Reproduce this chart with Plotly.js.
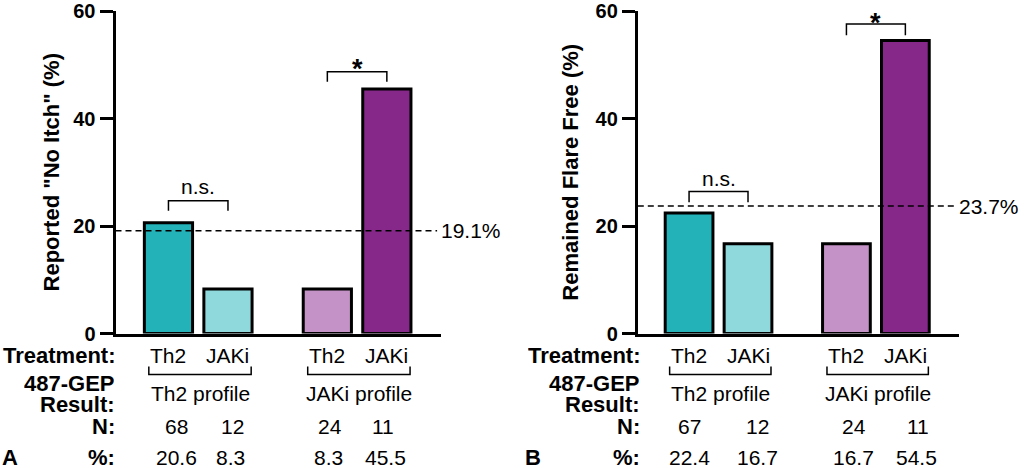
<!DOCTYPE html>
<html>
<head>
<meta charset="utf-8">
<script src="https://cdn.plot.ly/plotly-3.0.1.min.js"></script>
<style>
  html, body { margin: 0; padding: 0; background: #fff; }
  #chart { width: 1024px; height: 468px; }
</style>
</head>
<body>
<div id="chart"></div>
<script>
// Treatment received, grouped by 487-GEP profile result
const treatments = ['Th2', 'JAKi', 'Th2', 'JAKi'];
const profiles = ['Th2 profile', 'JAKi profile'];

// Panel A: patients reporting "No Itch"
const itchN = [68, 12, 24, 11];
const itchPct = [20.6, 8.3, 8.3, 45.5];
const itchOverall = 19.1;
const itchSig = ['n.s.', '*'];

// Panel B: patients who remained flare free
const flareN = [67, 12, 24, 11];
const flarePct = [22.4, 16.7, 16.7, 54.5];
const flareOverall = 23.7;
const flareSig = ['n.s.', '*'];

const yTicks = [0, 20, 40, 60];

// ---- drawing setup ----
const W = 1024, H = 468;
const FONT = 'Arial, "Liberation Sans", Helvetica, sans-serif';
const barColors = ['#22b2b8', '#8fd9dc', '#c492c6', '#86288a'];
const barPos = [1, 2, 3.67, 4.67];
const py = p => (H - p) / H;          // pixel row -> paper fraction
const yDomain = [py(333.5), py(11)];

const panels = [
  {
    xa: 'x', ya: 'y', xDomain: [115.5, 441], range: [0.11, 5.58],
    pct: itchPct, n: itchN, overall: itchOverall, sig: itchSig,
    title: 'Reported "No Itch" (%)', standoff: 8, letter: 'A', letterX: 10, rowRight: 117,
    sigBracket: [[22.85, 24.7], [46.85, 48.7]], sigText: [27.3, 50.3],
    nShift: [8.5, 5, 3, -4], pShift: [8, 3, 1, -1]
  },
  {
    xa: 'x2', ya: 'y2', xDomain: [637.8, 959], range: [0.13, 5.58],
    pct: flarePct, n: flareN, overall: flareOverall, sig: flareSig,
    title: 'Remained Flare Free (%)', standoff: 11, letter: 'B', letterX: 533, rowRight: 642,
    sigBracket: [[24.4, 26.4], [55.5, 57.6]], sigText: [28.9, 58.9],
    nShift: [0, 9, 8, 13], pShift: [0, 9, 7, 11]
  }
];

const traces = [];
const shapes = [];
const annotations = [];
const layout = {
  width: W, height: H,
  margin: { l: 0, r: 0, t: 0, b: 0 },
  paper_bgcolor: '#fff', plot_bgcolor: '#fff',
  showlegend: false,
  font: { family: FONT, color: '#000', size: 21 }
};

// compact text boxes for the tightly stacked table rows
const txt = (text, x, xref, y, opts) => Object.assign({
  text, x, xref, y, yref: 'paper', showarrow: false,
  xanchor: 'center', yanchor: 'middle', borderpad: 0, height: 20,
  font: { family: FONT, size: 21, color: '#000' }
}, opts || {});
const bold = size => ({ family: FONT, size: size, color: '#000', weight: 'bold' });

panels.forEach((p, i) => {
  const xKey = i === 0 ? 'xaxis' : 'xaxis2';
  const yKey = i === 0 ? 'yaxis' : 'yaxis2';

  layout[xKey] = {
    domain: [p.xDomain[0] / W, p.xDomain[1] / W], range: p.range, anchor: p.ya,
    showline: true, linewidth: 3, linecolor: '#000',
    ticks: '', showticklabels: false, showgrid: false, zeroline: false, fixedrange: true
  };
  layout[yKey] = {
    domain: yDomain, range: [0, 60], anchor: p.xa,
    tickvals: yTicks, ticks: 'outside', ticklen: 13, tickwidth: 3, tickcolor: '#000',
    showline: true, linewidth: 3, linecolor: '#000',
    showgrid: false, zeroline: false, fixedrange: true,
    tickfont: bold(20),
    title: { text: p.title, font: bold(22), standoff: p.standoff }
  };

  traces.push({
    type: 'bar', x: barPos, y: p.pct, xaxis: p.xa, yaxis: p.ya,
    width: 0.81, hoverinfo: 'none',
    marker: { color: barColors, line: { color: '#000', width: 3 } }
  });

  // overall rate reference line
  shapes.push({
    type: 'line', xref: p.xa + ' domain', yref: p.ya,
    x0: 0, x1: 0.988, y0: p.overall, y1: p.overall,
    line: { color: '#000', width: 1.5, dash: '6px,4px' }, layer: 'above'
  });
  annotations.push({
    text: p.overall.toFixed(1) + '%', xref: 'paper', x: p.xDomain[1] / W, xanchor: 'left', xshift: -2,
    yref: p.ya, y: p.overall, yanchor: 'middle', showarrow: false,
    font: { family: FONT, size: 21, color: '#000' }
  });

  // within-profile comparison brackets
  [0, 1].forEach(g => {
    const x0 = barPos[2 * g], x1 = barPos[2 * g + 1];
    const [lo, hi] = p.sigBracket[g];
    shapes.push({
      type: 'path', xref: p.xa, yref: p.ya,
      path: `M${x0},${lo} L${x0},${hi} L${x1},${hi} L${x1},${lo}`,
      line: { color: '#000', width: 1.5 }
    });
    const star = p.sig[g] === '*';
    annotations.push({
      text: p.sig[g], xref: p.xa, x: (x0 + x1) / 2, yref: p.ya, y: p.sigText[g],
      yanchor: 'middle', yshift: star ? -6 : 0, showarrow: false,
      font: star ? bold(27) : { family: FONT, size: 21, color: '#000' }
    });

    // profile bracket under the treatment labels
    const bx0 = x0 - 0.33, bx1 = x1 + 0.39;
    shapes.push({
      type: 'path', xref: p.xa, yref: 'paper',
      path: `M${bx0},${py(366.5)} L${bx0},${py(374.5)} L${bx1},${py(374.5)} L${bx1},${py(366.5)}`,
      line: { color: '#000', width: 1.5 }
    });
    annotations.push(txt(profiles[g], (bx0 + bx1) / 2, p.xa, py(393), { height: null }));
  });

  // table rows under the bars
  treatments.forEach((t, k) => {
    annotations.push(txt(t, barPos[k], p.xa, py(355)));
    annotations.push(txt(String(p.n[k]), barPos[k], p.xa, py(425.5), { xshift: p.nShift[k] }));
    annotations.push(txt(p.pct[k].toFixed(1), barPos[k], p.xa, py(457), { xshift: p.pShift[k] }));
  });

  // row headers
  const rx = p.rowRight / W;
  [['Treatment:', 355], ['487-GEP', 383], ['Result:', 403.5], ['N:', 425.5], ['%:', 457]]
    .forEach(([label, row]) => {
      annotations.push(txt(label, rx, 'paper', py(row), { xanchor: 'right', xshift: -1, font: bold(22) }));
    });

  annotations.push(txt(p.letter, p.letterX / W, 'paper', py(456.5), { font: bold(22) }));
});

layout.shapes = shapes;
layout.annotations = annotations;

Plotly.newPlot('chart', traces, layout, { staticPlot: true, displayModeBar: false });
</script>
</body>
</html>
